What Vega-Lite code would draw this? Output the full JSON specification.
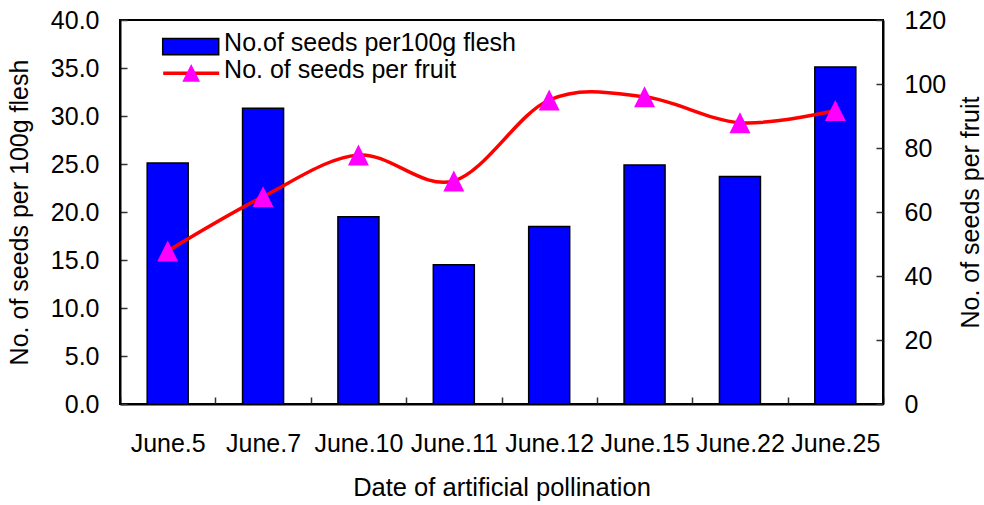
{
  "$schema": "https://vega.github.io/schema/vega-lite/v6.json",
  "width": 763,
  "height": 384,
  "autosize": {"type": "none"},
  "padding": {"left": 120, "top": 20, "right": 101, "bottom": 101},
  "background": "white",
  "config": {
    "font": "Liberation Sans",
    "view": {"stroke": "black", "strokeWidth": 2},
    "axis": {
      "grid": false,
      "domainColor": "black",
      "domainWidth": 2,
      "tickColor": "#333333",
      "tickWidth": 1.5,
      "labelColor": "black",
      "labelFontSize": 25,
      "labelFont": "Liberation Sans",
      "titleFontSize": 25,
      "titleFont": "Liberation Sans",
      "titleFontWeight": "normal",
      "titleColor": "black"
    }
  },
  "data": {
    "values": [
      {"date": "June.5", "flesh": 25.1, "fruit": 47.8, "a": "No.of seeds per100g flesh", "b": "No. of seeds per fruit"},
      {"date": "June.7", "flesh": 30.8, "fruit": 64.8, "a": "No.of seeds per100g flesh", "b": "No. of seeds per fruit"},
      {"date": "June.10", "flesh": 19.5, "fruit": 77.8, "a": "No.of seeds per100g flesh", "b": "No. of seeds per fruit"},
      {"date": "June.11", "flesh": 14.5, "fruit": 69.7, "a": "No.of seeds per100g flesh", "b": "No. of seeds per fruit"},
      {"date": "June.12", "flesh": 18.5, "fruit": 95.0, "a": "No.of seeds per100g flesh", "b": "No. of seeds per fruit"},
      {"date": "June.15", "flesh": 24.9, "fruit": 96.0, "a": "No.of seeds per100g flesh", "b": "No. of seeds per fruit"},
      {"date": "June.22", "flesh": 23.7, "fruit": 87.9, "a": "No.of seeds per100g flesh", "b": "No. of seeds per fruit"},
      {"date": "June.25", "flesh": 35.1, "fruit": 91.7, "a": "No.of seeds per100g flesh", "b": "No. of seeds per fruit"}
    ]
  },
  "layer": [
    {
      "mark": {"type": "bar", "width": {"band": 0.43}, "stroke": "black", "strokeWidth": 1.5},
      "encoding": {
        "x": {
          "field": "date", "type": "nominal", "sort": null,
          "scale": {"paddingInner": 0, "paddingOuter": 0},
          "axis": {
            "title": "Date of artificial pollination",
            "labelAngle": 0,
            "ticks": true,
            "tickBand": "extent",
            "tickSize": -7,
            "labelPadding": 34,
            "labelBaseline": "top",
            "titleY": 91.7,
            "titleFontSize": 25.5,
            "titleBaseline": "alphabetic"
          }
        },
        "y": {
          "field": "flesh", "type": "quantitative",
          "scale": {"domain": [0, 40], "nice": false},
          "axis": {
            "title": "No. of seeds per 100g flesh",
            "values": [0, 5, 10, 15, 20, 25, 30, 35, 40],
            "format": ".1f",
            "ticks": true,
            "tickSize": -7,
            "labelPadding": 28,
            "titleX": -93,
            "titleY": 192,
            "titleAngle": 270,
            "titleBaseline": "alphabetic",
            "titleAlign": "center"
          }
        },
        "fill": {
          "field": "a", "type": "nominal",
          "scale": {"domain": ["No.of seeds per100g flesh"], "range": ["#0000ff"]},
          "legend": {
            "orient": "none", "legendX": 41.7, "legendY": -2.3,
            "title": null, "padding": 0,
            "symbolType": "M-1,-0.29H1V0.29H-1Z",
            "symbolSize": 3136,
            "symbolStrokeColor": "black",
            "symbolStrokeWidth": 1.5,
            "labelFont": "Liberation Sans", "labelFontSize": 25, "labelColor": "black",
            "labelOffset": 4.4, "labelLimit": 600,
            "encode": {"labels": {"update": {"dy": {"value": -4}}}}
          }
        }
      }
    },
    {
      "layer": [
        {
          "mark": {"type": "line", "interpolate": "cardinal", "strokeWidth": 3.5},
          "encoding": {
            "x": {"field": "date", "type": "nominal", "sort": null},
            "y": {
              "field": "fruit", "type": "quantitative",
              "scale": {"domain": [0, 120], "nice": false},
              "axis": {
                "orient": "right",
                "title": "No. of seeds per fruit",
                "values": [0, 20, 40, 60, 80, 100, 120],
                "format": "d",
                "ticks": true,
                "tickSize": -7,
                "labelPadding": 28,
                "titleX": 95,
                "titleY": 192,
                "titleAngle": 270,
                "titleBaseline": "alphabetic",
                "titleAlign": "center"
              }
            },
            "stroke": {
              "field": "b", "type": "nominal",
              "scale": {"domain": ["No. of seeds per fruit"], "range": ["#ff0000"]},
              "legend": {
                "orient": "none", "legendX": 41.2, "legendY": 23.3,
                "title": null, "padding": 0,
                "symbolType": "stroke",
                "symbolSize": 3136,
                "symbolStrokeWidth": 3.5,
                "labelFont": "Liberation Sans", "labelFontSize": 25, "labelColor": "black",
                "labelOffset": 2.9, "labelLimit": 600,
                "encode": {"labels": {"update": {"dy": {"value": -3.5}}}}
              }
            }
          }
        },
        {
          "mark": {"type": "point", "filled": true, "color": "#ff00ff", "opacity": 1, "size": 441, "strokeWidth": 0},
          "encoding": {
            "x": {"field": "date", "type": "nominal", "sort": null},
            "y": {"field": "fruit", "type": "quantitative"},
            "shape": {
              "field": "b", "type": "nominal",
              "scale": {"range": ["M0,-1L1,1L-1,1Z"]},
              "legend": {
                "orient": "none", "legendX": 58.7, "legendY": 40.35,
                "title": null, "padding": 0,
                "symbolSize": 313,
                "symbolStrokeWidth": 0,
                "symbolFillColor": "#ff00ff",
                "labelFontSize": 25,
                "labelExpr": "''",
                "labelLimit": 600
              }
            }
          }
        }
      ]
    }
  ],
  "resolve": {"scale": {"y": "independent"}}
}
